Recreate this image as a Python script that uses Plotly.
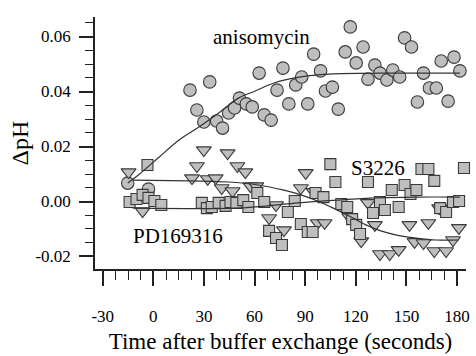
import plotly.graph_objects as go

# ---------------- data ----------------
aniso_x = [-15.2, -2.9, 21.7, 33.4, 25.8, 29.9, 37.5, 41.0, 44.6, 48.1, 51.0, 55.1, 58.6, 65.7,
           69.8, 62.7, 73.3, 76.8, 84.4, 87.9, 80.3, 91.5, 95.0, 99.1, 102.0, 106.1, 109.6,
           113.7, 116.7, 120.2, 124.3, 127.2, 131.3, 134.3, 138.4, 141.9, 146.0, 148.9, 153.0,
           156.5, 160.1, 163.6, 167.7, 170.6, 174.7, 178.2, 181.7]
aniso_y = [0.0067, 0.0045, 0.0405, 0.0435, 0.0333, 0.0289, 0.0293, 0.0267, 0.0322, 0.0340,
           0.0376, 0.0355, 0.0344, 0.0315, 0.0296, 0.0467, 0.0405, 0.0485, 0.0424, 0.0453,
           0.0355, 0.0355, 0.0536, 0.0475, 0.0402, 0.0416, 0.0336, 0.0544, 0.0635, 0.0504,
           0.0562, 0.0445, 0.0496, 0.0467, 0.0442, 0.0478, 0.0453, 0.0595, 0.0562, 0.0362,
           0.0467, 0.0413, 0.0413, 0.0511, 0.0365, 0.0525, 0.0475]

tri_x = [-14.7, -6.4, 22.9, 25.8, 29.9, 32.2, 36.9, 40.5, 44.0, 46.9, 49.8, 54.5, 57.5, 61.0,
         68.6, 72.7, 77.4, 87.4, 90.3, 95.0, 97.4, 101.5, 113.2, 116.1, 123.2, 127.2, 131.3,
         134.3, 140.1, 145.4, 151.8, 154.8, 160.1, 163.0, 166.5, 169.4, 173.5, 177.6, 181.1]
tri_y = [0.0107, -0.0035, 0.0085, 0.0129, 0.0187, 0.0082, 0.0085, 0.0049, 0.0176, 0.0038,
         0.0129, 0.0107, 0.0056, 0.0056, -0.0060, -0.0013, -0.0104, 0.0049, 0.0104, 0.0035,
         -0.0078, -0.0078, -0.0024, -0.0056, -0.0144, -0.0005, -0.0085, -0.0191, -0.0191,
         -0.0176, -0.0085, -0.0147, -0.0151, -0.0078, -0.0180, -0.0024, -0.0180, -0.0140,
         -0.0096]

sq_x = [-14.1, -10.0, -6.4, -2.9, 0.6, 4.7, -3.5, 28.7, 31.7, 34.6, 38.7, 42.8, 45.7, 49.2,
        53.3, 56.3, 61.6, 65.7, 68.6, 72.7, 76.2, 79.7, 83.8, 87.4, 91.5, 94.4, 96.1, 100.8,
        104.9, 107.9, 111.4, 114.9, 117.8, 120.2, 122.5, 127.2, 130.2, 134.3, 137.2, 141.3,
        145.4, 148.9, 152.4, 155.9, 158.9, 163.0, 166.5, 170.0, 173.5, 177.6, 181.2, 184.1]
sq_y = [-0.0002, 0.0009, 0.0024, 0.0013, 0.0002, -0.0013, 0.0133, -0.0005, -0.0024, -0.0020,
        -0.0005, -0.0016, -0.0002, -0.0005, 0.0005, -0.0020, 0.0031, -0.0002, -0.0107, -0.0133,
        -0.0158, -0.0038, 0.0002, -0.0082, -0.0111, -0.0111, 0.0031, 0.0016, 0.0136, 0.0071,
        -0.0009, -0.0020, -0.0064, -0.0085, -0.0118, 0.0071, -0.0042, -0.0002, -0.0031, 0.0042,
        -0.0020, 0.0060, 0.0027, 0.0042, 0.0118, 0.0118, 0.0075, -0.0024, -0.0038, -0.0002,
        0.0002, 0.0122]

# fitted curves
aniso_fit_x = [-15.2, -8.2, 3.5, 15.2, 27.0, 38.7, 50.4, 60.4, 71.5, 87.4, 106.7, 144.2, 181.7]
aniso_fit_y = [0.0067, 0.0100, 0.0162, 0.0224, 0.0271, 0.0322, 0.0376, 0.0402, 0.0431, 0.0453,
               0.0464, 0.0467, 0.0467]
tri_fit_x = [-12.3, 21.1, 44.6, 62.1, 76.8, 87.4, 97.3, 106.7, 116.1, 126.0, 134.8, 144.2,
             155.9, 167.7, 181.1]
tri_fit_y = [0.0078, 0.0075, 0.0071, 0.0060, 0.0042, 0.0024, 0.0002, -0.0024, -0.0053, -0.0085,
             -0.0107, -0.0122, -0.0133, -0.0140, -0.0140]
sq_fit_x = [-12.3, 50.4, 68.0, 85.6, 109.0, 132.5, 155.9, 181.7]
sq_fit_y = [-0.0024, -0.0024, -0.0016, -0.0005, 0.0005, 0.0013, 0.0016, 0.0016]

x_tickvals = [-30, 0, 30, 60, 90, 120, 150, 180]
x_ticktext = ["-30", "0", "30", "60", "90", "120", "150", "180"]
y_tickvals = [-0.02, 0.0, 0.02, 0.04, 0.06]
y_ticktext = ["-0.02", "0.00", "0.02", "0.04", "0.06"]

labels = ["anisomycin", "S3226", "PD169316"]
label_x = [63.9, 133.4, 14.4]
label_y = [0.0598, 0.0122, -0.0125]

# ---------------- figure ----------------
FONT = "Liberation Serif, Times New Roman, serif"
fill = "#bebebe"
edge = "#3a3a3a"
axc = "#222222"

fig = go.Figure()
fig.add_trace(go.Scatter(x=aniso_x, y=aniso_y, mode="markers", cliponaxis=False,
                         marker=dict(symbol="circle", size=12.5, color=fill,
                                     line=dict(color=edge, width=1.1))))
fig.add_trace(go.Scatter(x=tri_x, y=tri_y, mode="markers", cliponaxis=False,
                         marker=dict(symbol="triangle-down", size=13, color=fill,
                                     line=dict(color=edge, width=1.1))))
fig.add_trace(go.Scatter(x=sq_x, y=sq_y, mode="markers", cliponaxis=False,
                         marker=dict(symbol="square", size=11, color=fill,
                                     line=dict(color=edge, width=1.1))))
for fx, fy in [(aniso_fit_x, aniso_fit_y), (tri_fit_x, tri_fit_y), (sq_fit_x, sq_fit_y)]:
    fig.add_trace(go.Scatter(x=fx, y=fy, mode="lines", line=dict(color="#333333", width=1.2,
                                                                  shape="spline")))

for t, ax_, ay_ in zip(labels, label_x, label_y):
    fig.add_annotation(x=ax_, y=ay_, text=t, showarrow=False,
                       font=dict(family=FONT, size=21, color="black"))

fig.update_layout(
    width=476, height=356, showlegend=False,
    paper_bgcolor="white", plot_bgcolor="white",
    margin=dict(l=95, r=6, t=17, b=87),
    font=dict(family=FONT, color="black"),
)
fig.update_xaxes(
    range=[-34.6, 185.3], showgrid=False, zeroline=False,
    showline=True, linecolor=axc, linewidth=1.5, layer="above traces",
    ticks="outside", ticklen=15, tickwidth=1.5, tickcolor=axc,
    tickvals=x_tickvals, ticktext=x_ticktext,
    tickfont=dict(family=FONT, size=17), ticklabelstandoff=16,
    minor=dict(ticks="outside", ticklen=9, tickwidth=1.2, tickcolor=axc, dtick=7.5,
               tick0=0, showgrid=False),
    title=dict(text="Time after buffer exchange (seconds)", font=dict(family=FONT, size=23),
               standoff=8),
)
fig.update_yaxes(
    range=[-0.02455, 0.0671], showgrid=False, zeroline=False,
    showline=True, linecolor=axc, linewidth=1.5, layer="above traces",
    ticks="outside", ticklen=14, tickwidth=1.5, tickcolor=axc,
    tickvals=y_tickvals, ticktext=y_ticktext,
    tickfont=dict(family=FONT, size=17), ticklabelstandoff=5,
    minor=dict(ticks="outside", ticklen=8, tickwidth=1.2, tickcolor=axc, dtick=0.005,
               tick0=0, showgrid=False),
    title=dict(text="ΔpH", font=dict(family=FONT, size=24), standoff=0),
)

fig.write_html("out.html", config={"displayModeBar": False},
               post_script="document.body.style.margin='0px';")
